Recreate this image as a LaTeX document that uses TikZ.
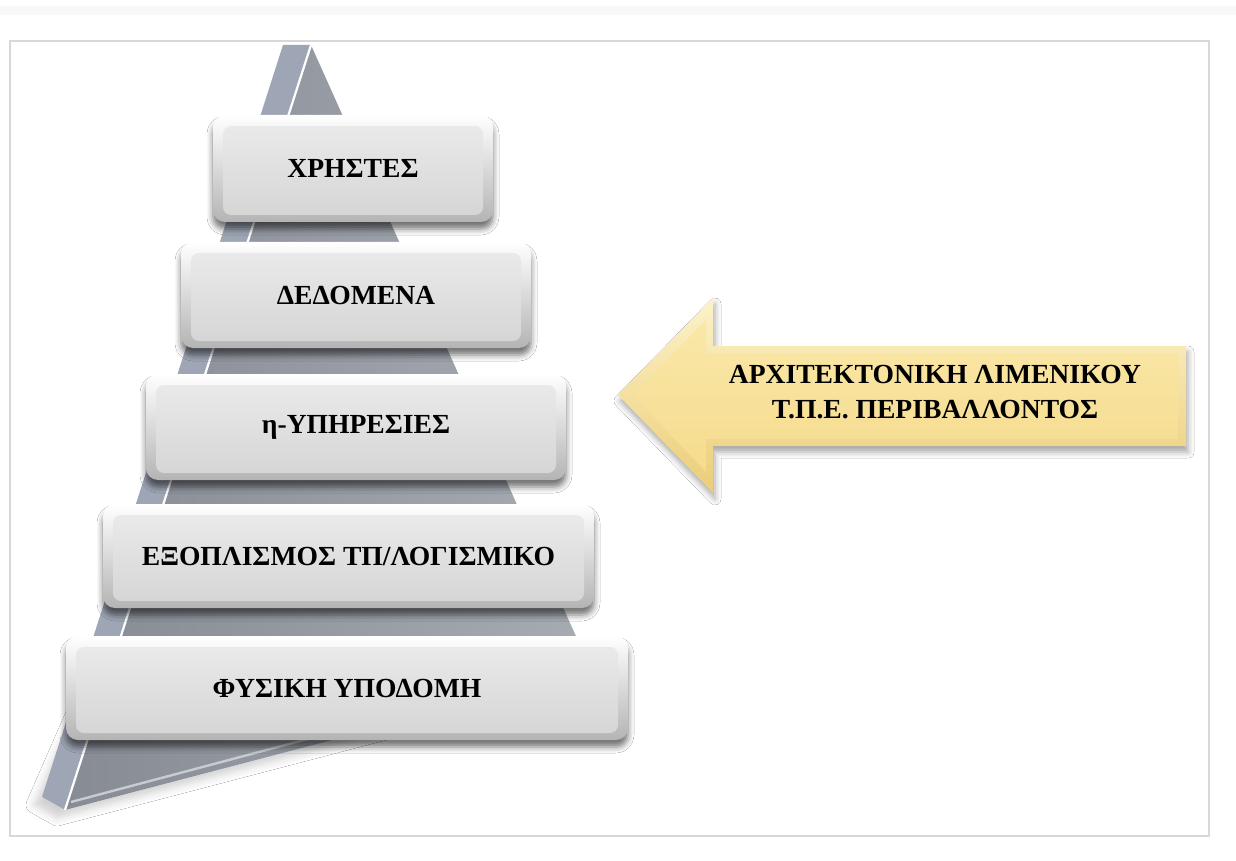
\documentclass[tikz,border=0pt]{standalone}
\usepackage{fontspec}
\setmainfont{Liberation Serif}
\usetikzlibrary{shadows.blur,calc}

\definecolor{bandgray}{HTML}{F8F8F8}
\definecolor{framegray}{HTML}{D8D8D8}
\definecolor{stripgray}{HTML}{9EA6B5}
\definecolor{facedark}{HTML}{868B94}
\definecolor{facelight}{HTML}{A7ABB2}
\definecolor{boxedge}{HTML}{B4B4B4}
\definecolor{innertop}{HTML}{ECECEC}
\definecolor{innerbot}{HTML}{D4D4D4}
\definecolor{arrowtop}{HTML}{FDF2C9}
\definecolor{arrowbot}{HTML}{EBCD78}
\definecolor{arrowintop}{HTML}{FAE8A8}
\definecolor{arrowinbot}{HTML}{F5DB8E}

\tikzset{
  labelfont/.style={font=\fontsize{13.8}{17.5}\selectfont\bfseries, text=black},
  tierbox/.style={
    labelfont, rectangle, rounded corners=6pt, inner sep=0pt,
    top color=white, bottom color=boxedge,
    blur shadow={shadow xshift=0pt, shadow yshift=-3.5pt,
                 shadow blur radius=3pt, shadow opacity=55},
    path picture={
      \shade[top color=innertop, bottom color=innerbot, rounded corners=4pt]
        ($(path picture bounding box.north west)+(5pt,-5.5pt)$) rectangle
        ($(path picture bounding box.south east)+(-5pt,3.5pt)$);
    }
  }
}

\begin{document}
\begin{tikzpicture}[x=0.5pt,y=-0.5pt]
\useasboundingbox (0,0) rectangle (1236,861);
\fill[white] (0,0) rectangle (1236,861);
\fill[bandgray] (0,6) rectangle (1236,15);
\draw[framegray, line width=0.9pt] (10,41) rectangle (1209,836);

% pyramid corners
\coordinate (apexL) at (283,45);
\coordinate (apexR) at (311,45);
\coordinate (baseL) at (42,797);
\coordinate (baseM) at (65,810);
\coordinate (baseR) at (592,672);

% soft shadow at the foot of the pyramid
\path[fill=white, blur shadow={shadow xshift=-4pt, shadow yshift=-4pt,
      shadow blur radius=4pt, shadow opacity=18}]
  ($(apexL)+(0,200)$) -- ($(apexR)+(0,200)$) -- (baseR) -- (baseM) -- (baseL) -- cycle;
% side strip and front face
\fill[stripgray] (apexL) -- (apexR) -- (baseM) -- (baseL) -- cycle;
\shade[left color=facedark, right color=facelight]
  (apexR) -- (baseM) -- (baseR) -- cycle;
\draw[white, line width=1.1pt] (apexR) -- (baseM);
\draw[white!55!facedark, line width=1.2pt]
  ($(baseM)+(6,-8)$) -- ($(baseR)+(-40,2)$);

% tiers of the pyramid
\node[tierbox, minimum width=140pt, minimum height=53.5pt] (users)  at (353,168.5) {ΧΡΗΣΤΕΣ};
\node[tierbox, minimum width=175pt, minimum height=53pt]   (data)   at (356,295)   {ΔΕΔΟΜΕΝΑ};
\node[tierbox, minimum width=210pt, minimum height=53pt]   (eserv)  at (356,427)   {η-ΥΠΗΡΕΣΙΕΣ};
\node[tierbox, minimum width=245.5pt, minimum height=52pt] (equip)  at (348.5,556) {ΕΞΟΠΛΙΣΜΟΣ ΤΠ/ΛΟΓΙΣΜΙΚΟ};
\node[tierbox, minimum width=281pt, minimum height=52pt]   (infra)  at (347,688)   {ΦΥΣΙΚΗ ΥΠΟΔΟΜΗ};

% block arrow pointing at the pyramid
\path[top color=arrowtop, bottom color=arrowbot,
      blur shadow={shadow xshift=1pt, shadow yshift=-3pt,
                   shadow blur radius=3pt, shadow opacity=35}]
  (618,395) -- (713,298) -- (713,346) -- (1186,346) -- (1186,446)
  -- (713,446) -- (713,493) -- cycle;
\shade[top color=arrowintop, bottom color=arrowinbot]
  (633,395) -- (706,320) -- (706,353) -- (1178,353) -- (1178,439)
  -- (706,439) -- (706,472) -- cycle;
\node[labelfont, align=center] (arch) at (935,392)
  {ΑΡΧΙΤΕΚΤΟΝΙΚΗ ΛΙΜΕΝΙΚΟΥ\\Τ.Π.Ε. ΠΕΡΙΒΑΛΛΟΝΤΟΣ};
\end{tikzpicture}
\end{document}
